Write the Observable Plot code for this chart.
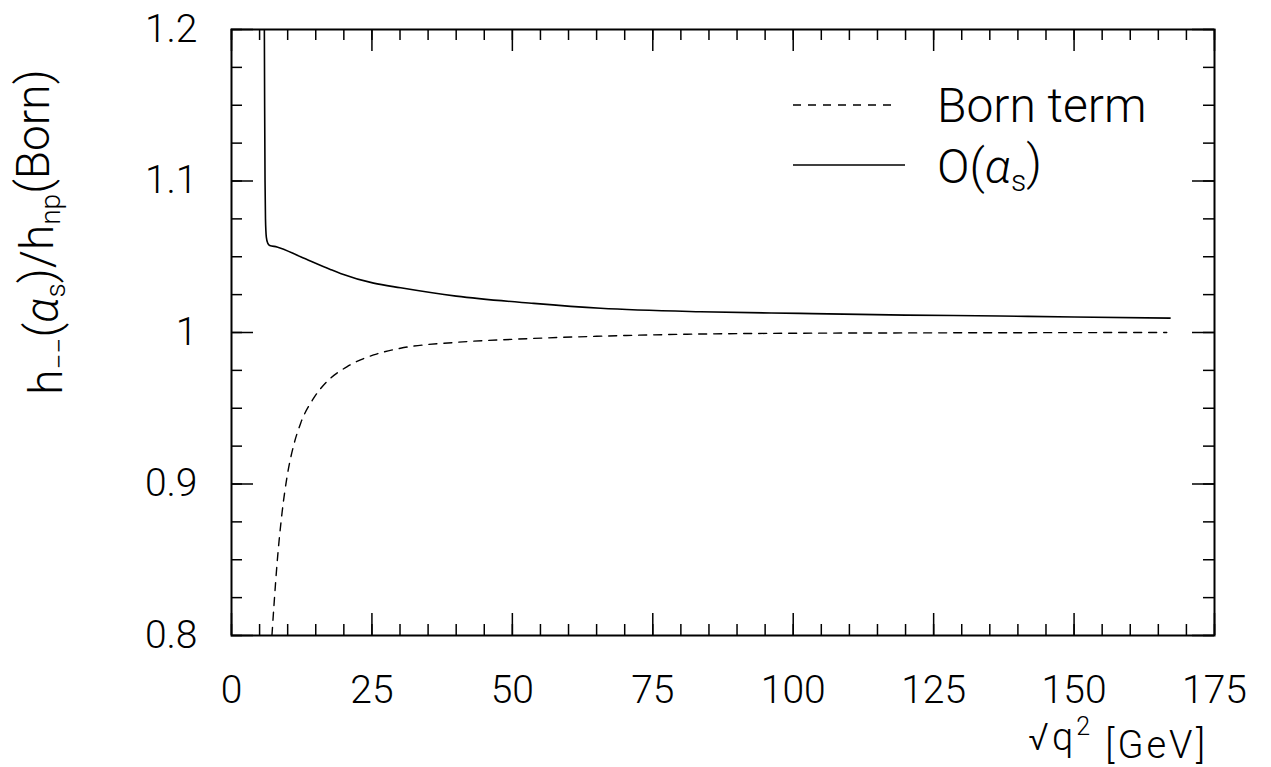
<!DOCTYPE html>
<html><head><meta charset="utf-8">
<script src="https://cdn.jsdelivr.net/npm/d3@7"></script>
<script src="https://cdn.jsdelivr.net/npm/@observablehq/plot@0.6"></script>
<style>
body{margin:0;background:#fff}
#wrap{position:relative;width:1271px;height:767px}
</style>
</head><body><div id="wrap"></div>
<script>
// Born term (dashed)
const bornQ = [7.2, 7.6, 8.1, 9.0, 9.9, 11.1, 12.3, 14.6, 17.0, 20.6, 25.3, 30.1, 40, 50, 65, 80, 100, 130, 166.5];
const bornR = [0.800, 0.822, 0.847, 0.881, 0.905, 0.926, 0.940, 0.9565, 0.9676, 0.9775, 0.9852, 0.9896, 0.9935, 0.9955, 0.9975, 0.9988, 0.9995, 0.9998, 1.0];
// O(alpha_s) (solid)
const alphaQ = [5.85, 5.9, 5.97, 6.05, 6.2, 6.45, 6.8, 8.1, 12.3, 17.6, 19.4, 25.3, 30.1, 40, 53.8, 65.7, 83.5, 101.2, 120, 136.8, 150, 167.1];
const alphaR = [1.2, 1.15, 1.10, 1.075, 1.063, 1.059, 1.0575, 1.0565, 1.050, 1.0416, 1.039, 1.0326, 1.0295, 1.024, 1.0192, 1.016, 1.0137, 1.0126, 1.0115, 1.0109, 1.0102, 1.0095];

const xTickLabels = [0, 25, 50, 75, 100, 125, 150, 175];
const yTickLabels = [0.8, 0.9, 1, 1.1, 1.2];
const xMinor = d3.range(0, 175.1, 5);
const yMinor = d3.range(0, 17).map(i => 0.8 + i * 0.025);

const born = bornQ.map((q, i) => ({q, r: bornR[i]}));
const alpha = alphaQ.map((q, i) => ({q, r: alphaR[i]}));

const W = 1271, H = 767, mL = 231, mR = 57, mT = 29, mB = 132;
const fh = H - mT - mB, fw = W - mL - mR;
const FONT = "Roboto, 'Liberation Sans', sans-serif";
const tickStyle = {stroke: "#000", strokeWidth: 1.5};

const chart = Plot.plot({
  width: W, height: H,
  marginLeft: mL, marginRight: mR, marginTop: mT, marginBottom: mB,
  x: {domain: [0, 175]},
  y: {domain: [0.8, 1.2]},
  style: {fontFamily: FONT, fontSize: "39px", fontWeight: 300, color: "#000", background: "#fff"},
  marks: [
    Plot.ruleX(xMinor, {...tickStyle, insetTop: fh - 11}),
    Plot.ruleX(xMinor, {...tickStyle, insetBottom: fh - 11}),
    Plot.ruleX(xTickLabels, {...tickStyle, insetTop: fh - 22}),
    Plot.ruleX(xTickLabels, {...tickStyle, insetBottom: fh - 22}),
    Plot.ruleY(yMinor, {...tickStyle, insetRight: fw - 11}),
    Plot.ruleY(yMinor, {...tickStyle, insetLeft: fw - 11}),
    Plot.ruleY(yTickLabels, {...tickStyle, insetRight: fw - 22}),
    Plot.ruleY(yTickLabels, {...tickStyle, insetLeft: fw - 22}),
    Plot.frame({stroke: "#000", strokeWidth: 2}),
    Plot.axisX(xTickLabels, {tickSize: 0, tickPadding: 40, label: null, fontSize: 39}),
    Plot.axisY(yTickLabels, {tickSize: 0, tickPadding: 34, label: null, fontSize: 39, tickFormat: d => String(d)}),
    Plot.line(born, {x: "q", y: "r", stroke: "#000", strokeWidth: 1.4, strokeDasharray: "8,7", curve: "monotone-x", clip: true}),
    Plot.line(alpha, {x: "q", y: "r", stroke: "#000", strokeWidth: 1.6, curve: "monotone-x", clip: true})
  ]
});
document.getElementById("wrap").appendChild(chart);

const svg = d3.select(chart);
// Y-axis title
const yt = svg.append("text")
  .attr("transform", "translate(62,232) rotate(-90)")
  .attr("text-anchor", "middle")
  .style("font-family", FONT).style("font-weight", 300).style("font-size", "46px").attr("fill", "#000");
yt.append("tspan").text("h");
yt.append("tspan").attr("dy", "0.25em").style("font-size", "28px").text("−−");
yt.append("tspan").attr("dy", "-0.25em").text("(");
yt.append("tspan").style("font-style", "italic").text("α");
yt.append("tspan").attr("dy", "0.25em").style("font-size", "28px").text("s");
yt.append("tspan").attr("dy", "-0.25em").text(")/h");
yt.append("tspan").attr("dy", "0.25em").style("font-size", "28px").text("np");
yt.append("tspan").attr("dy", "-0.25em").text("(Born)");

// X-axis title
const xt = svg.append("text")
  .attr("x", 1208).attr("y", 750).attr("text-anchor", "end")
  .style("font-family", FONT).style("font-weight", 300).style("font-size", "38px")
  .style("letter-spacing", "3px").attr("fill", "#000");
xt.append("tspan").text("√q");
xt.append("tspan").attr("dy", "-0.6em").style("font-size", "25px").text("2");
xt.append("tspan").attr("dy", "0.6em").text(" [GeV]");

// Legend
const lg = svg.append("g").style("font-family", FONT).style("font-weight", 300).style("font-size", "48px")
  .attr("text-anchor", "start");
lg.append("line").attr("x1", 793).attr("x2", 898).attr("y1", 105).attr("y2", 105)
  .attr("stroke", "#000").attr("stroke-width", 1.4).attr("stroke-dasharray", "8,7");
lg.append("text").attr("x", 937).attr("y", 122).attr("text-anchor", "start").attr("fill", "#000").text("Born term");
lg.append("line").attr("x1", 793).attr("x2", 905).attr("y1", 165).attr("y2", 165)
  .attr("stroke", "#000").attr("stroke-width", 1.6);
const ot = lg.append("text").attr("x", 937).attr("y", 183).attr("text-anchor", "start").attr("fill", "#000");
ot.append("tspan").text("O(");
ot.append("tspan").style("font-style", "italic").text("α");
ot.append("tspan").attr("dy", "0.25em").style("font-size", "30px").text("s");
ot.append("tspan").attr("dy", "-0.25em").text(")");
</script>
</body></html>
